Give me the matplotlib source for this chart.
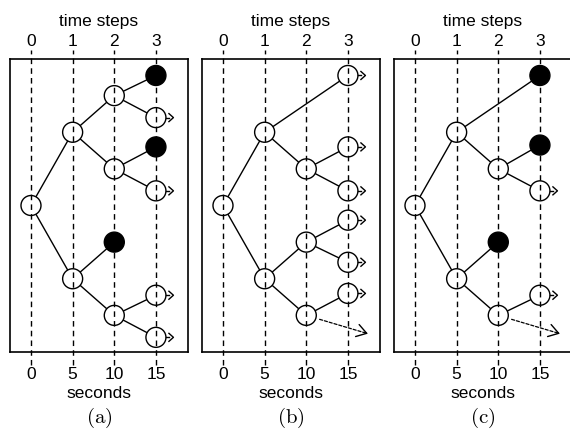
import numpy as np
import matplotlib.pyplot as plt
from matplotlib.patches import Ellipse

plt.rcParams['font.family'] = ['Liberation Sans', 'DejaVu Sans']
plt.rcParams['mathtext.fontset'] = 'cm'

# time axis
seconds = [0, 5, 10, 15]
step_labels = ['0', '1', '2', '3']
sec_per_step = 5

# tree nodes: (time step, vertical position, kind)
# kind: 'open' = white node, 'filled' = black node, 'cont' = white node that continues
nodes_a = [(0, 0.0, 'open'),
           (1, 2.0, 'open'), (1, -2.0, 'open'),
           (2, 3.0, 'open'), (2, 1.0, 'open'), (2, -1.0, 'filled'), (2, -3.0, 'open'),
           (3, 3.55, 'filled'), (3, 2.4, 'cont'), (3, 1.6, 'filled'), (3, 0.4, 'cont'),
           (3, -2.45, 'cont'), (3, -3.6, 'cont')]
edges_a = [(0, 1), (0, 2), (1, 3), (1, 4), (2, 5), (2, 6),
           (3, 7), (3, 8), (4, 9), (4, 10), (6, 11), (6, 12)]

nodes_b = [(0, 0.0, 'open'),
           (1, 2.0, 'open'), (1, -2.0, 'open'),
           (3, 3.55, 'cont'),
           (2, 1.0, 'open'), (3, 1.6, 'cont'), (3, 0.4, 'cont'),
           (2, -1.0, 'open'), (3, -0.4, 'cont'), (3, -1.55, 'cont'),
           (2, -3.0, 'open'), (3, -2.4, 'cont')]
edges_b = [(0, 1), (0, 2), (1, 3), (1, 4), (4, 5), (4, 6),
           (2, 7), (7, 8), (7, 9), (2, 10), (10, 11)]
late_b = 10   # node whose child is delayed

nodes_c = [(0, 0.0, 'open'),
           (1, 2.0, 'open'), (1, -2.0, 'open'),
           (3, 3.55, 'filled'),
           (2, 1.0, 'open'), (3, 1.65, 'filled'), (3, 0.4, 'cont'),
           (2, -1.0, 'filled'),
           (2, -3.0, 'open'), (3, -2.45, 'cont')]
edges_c = [(0, 1), (0, 2), (1, 3), (1, 4), (4, 5), (4, 6),
           (2, 7), (2, 8), (8, 9)]
late_c = 8

late_target = (17.4, -3.5)  # seconds, vertical position

panels = [('(a)', nodes_a, edges_a, None),
          ('(b)', nodes_b, edges_b, late_b),
          ('(c)', nodes_c, edges_c, late_c)]

fig = plt.figure(figsize=(5.7, 4.37), dpi=100)
lefts = [10, 202, 394]
fs = 12.5

for (label, nodes, edges, late), left in zip(panels, lefts):
    ax = fig.add_axes([left / 570, (437 - 352) / 437, 178 / 570, 293 / 437])
    ax.set_xlim(-2.52, 18.85)
    ax.set_ylim(-4.0, 4.0)
    for s in ax.spines.values():
        s.set_linewidth(1.2)

    # node radius ~10 px in data units
    ppx = 178 / (18.85 + 2.52)
    ppy = 293 / 8.0
    rx = 10 / ppx
    ry = 10 / ppy

    # vertical dashed lines through the time steps
    for s in seconds:
        ax.plot([s, s], [-4.36, 4.25], color='black', lw=1.0,
                linestyle=(0, (4, 3)), clip_on=False, zorder=3)

    xs = [n[0] * sec_per_step for n in nodes]
    ys = [n[1] for n in nodes]

    for i, j in edges:
        ax.plot([xs[i], xs[j]], [ys[i], ys[j]], color='black', lw=1.0, zorder=1)

    for x, y, (step, _, kind) in zip(xs, ys, nodes):
        if kind == 'filled':
            ax.add_patch(Ellipse((x, y), 2 * rx, 2 * ry, facecolor='black',
                                 edgecolor='black', lw=1.0, zorder=4))
        else:
            ax.add_patch(Ellipse((x, y), 2 * rx, 2 * ry, facecolor='white',
                                 edgecolor='black', lw=1.0, zorder=2))
        if kind == 'cont':
            # short dash then open chevron "->"
            ax.plot([x + 10.5 / ppx, x + 13 / ppx], [y, y], color='black', lw=1.0, zorder=2)
            ax.plot([x + 13 / ppx, x + 17.5 / ppx, x + 13 / ppx],
                    [y + 4 / ppy, y, y - 4 / ppy], color='black', lw=1.0, zorder=2)

    if late is not None:
        ax.annotate('', xy=late_target, xytext=(xs[late], ys[late]),
                    arrowprops=dict(arrowstyle='-', lw=0.9, linestyle=(0, (2.5, 1.5)),
                                    color='black', shrinkA=10, shrinkB=1),
                    zorder=1, annotation_clip=False)
        dx = late_target[0] - xs[late]
        dy = late_target[1] - ys[late]
        back = (late_target[0] - 0.05 * dx, late_target[1] - 0.05 * dy)
        ax.annotate('', xy=late_target, xytext=back,
                    arrowprops=dict(arrowstyle='->,head_length=0.7,head_width=0.45',
                                    lw=1.0, color='black', shrinkA=0, shrinkB=0,
                                    mutation_scale=10),
                    zorder=1, annotation_clip=False)

    ax.set_yticks([])
    ax.set_xticks(seconds)
    ax.set_xticklabels([str(s) for s in seconds], fontsize=fs)
    ax.tick_params(axis='x', length=0, pad=11)
    ax.set_xlabel('seconds', fontsize=fs, labelpad=3)

    top = ax.secondary_xaxis('top', functions=(lambda v: v / sec_per_step,
                                               lambda v: v * sec_per_step))
    top.set_xticks(range(len(step_labels)))
    top.set_xticklabels(step_labels, fontsize=fs)
    top.tick_params(length=0, pad=7)
    top.set_xlabel('time steps', fontsize=fs, labelpad=6)
    top.spines['top'].set_visible(False)

    ax.text(0.5, (352 - 418) / 293, r'$\mathrm{' + label + '}$', transform=ax.transAxes,
            ha='center', va='center', fontsize=15)

fig.savefig('out.png', dpi=100)
